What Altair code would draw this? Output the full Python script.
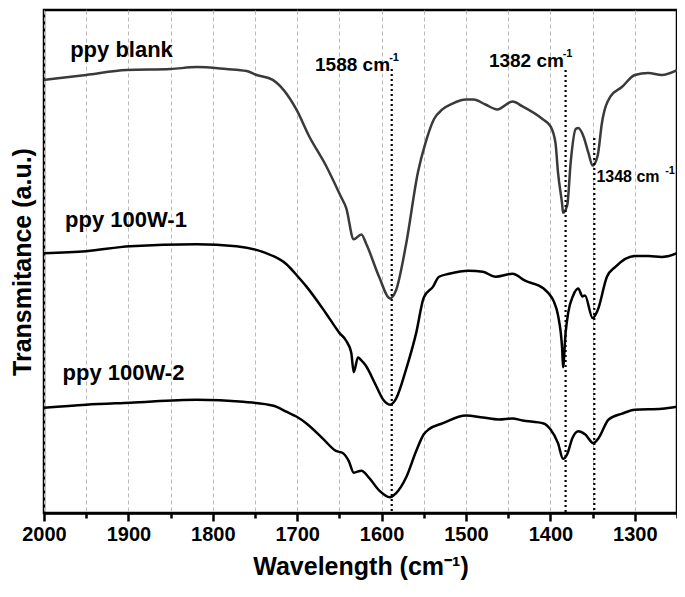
import altair as alt
import pandas as pd

# ---- data (wavenumber in cm-1, transmittance in arbitrary stacked units) ----
wn_blank = [2000, 1950, 1902, 1850, 1819, 1784, 1760, 1748, 1729, 1701, 1686, 1666, 1648,
            1642, 1633, 1624, 1618, 1603, 1590, 1583, 1571, 1557, 1548, 1538, 1528, 1516,
            1500, 1491, 1477, 1463, 1445, 1433, 1409, 1400, 1394, 1391, 1386, 1385, 1380,
            1376, 1370, 1367, 1361, 1355, 1350, 1344, 1339, 1329, 1315, 1300, 1284, 1268, 1250]
t_blank = [440, 445, 450, 451, 453, 451, 449, 445, 440, 410, 383, 353, 321,
           310, 278, 283, 273, 240, 218, 226, 273, 346, 376, 400, 410, 416,
           420, 420, 415, 410, 418, 413, 400, 393, 376, 346, 313, 305, 313,
           356, 390, 391, 383, 366, 353, 363, 396, 423, 433, 445, 447, 445, 450]

wn_w1 = [2000, 1950, 1898, 1819, 1772, 1740, 1713, 1699, 1689, 1666, 1650, 1642, 1636,
         1633, 1628, 1624, 1619, 1607, 1598, 1590, 1583, 1571, 1559, 1550, 1539, 1532,
         1520, 1497, 1480, 1465, 1445, 1430, 1408, 1402, 1396, 1391, 1386, 1385, 1382,
         1379, 1373, 1367, 1362, 1359, 1350, 1344, 1333, 1323, 1300, 1284, 1268, 1250]
t_w1 = [264, 266, 271, 273, 271, 265, 253, 240, 230, 203, 183, 175, 163,
        143, 158, 155, 150, 130, 115, 110, 116, 146, 183, 219, 230, 240,
        243, 246, 245, 240, 243, 236, 228, 223, 215, 201, 166, 148, 183,
        203, 221, 228, 220, 221, 198, 206, 240, 250, 261, 261, 260, 264]

wn_w2 = [2000, 1950, 1898, 1819, 1764, 1728, 1713, 1701, 1689, 1669, 1654, 1646, 1639,
         1633, 1624, 1615, 1603, 1590, 1583, 1571, 1559, 1550, 1544, 1528, 1500, 1480,
         1461, 1445, 1433, 1408, 1400, 1391, 1385, 1380, 1374, 1367, 1359, 1349, 1343,
         1331, 1315, 1300, 1268, 1250]
t_w2 = [107, 110, 112, 115, 113, 109, 103, 98, 91, 75, 63, 61, 53,
        41, 43, 36, 23, 16, 20, 36, 63, 80, 85, 91, 99, 97,
        95, 96, 94, 91, 85, 71, 55, 60, 76, 83, 80, 71, 76,
        95, 101, 105, 106, 108]

series_names = ["ppy blank", "ppy 100W-1", "ppy 100W-2"]
series_colors = ["#3a3a3a", "#000000", "#000000"]

# series labels
label_wn = [1969, 1975, 1978]
label_t = [463, 291, 135]

# marked peaks
peak_wn = [1588, 1382, 1348]
peak_top = [451, 450, 381]

peak_text = ["1588 cm", "1382 cm", "1348 cm"]
peak_text_wn = [1590, 1384, 1345.5]
peak_text_t = [449, 453, 336]
peak_text_align = ["right", "right", "left"]

sup_text = ["-1", "-1", "-1"]
sup_wn = [1591, 1385.5, 1264]
sup_t = [459, 463, 344]

x_ticks = list(range(2000, 1249, -50))

# ---- build tables ----
rows = []
for name, xs, ys in zip(series_names, [wn_blank, wn_w1, wn_w2], [t_blank, t_w1, t_w2]):
    for x, y in zip(xs, ys):
        rows.append({"series": name, "wn": x, "t": y})
df = pd.DataFrame(rows)

labels_df = pd.DataFrame({"series": series_names, "wn": label_wn, "t": label_t})
peaks_df = pd.DataFrame({"wn": peak_wn, "top": peak_top, "bottom": [0, 0, 0]})
ptext_df = pd.DataFrame({"txt": peak_text, "wn": peak_text_wn, "t": peak_text_t,
                         "align": peak_text_align})
sup_df = pd.DataFrame({"txt": sup_text, "wn": sup_wn, "t": sup_t})

FONT = "Liberation Sans"

x_scale = alt.Scale(domain=[2000, 1250], nice=False, zero=False)
y_scale = alt.Scale(domain=[0, 511], nice=False, zero=False)

x_axis = alt.Axis(
    values=x_ticks,
    format="d",
    labelExpr="datum.value % 100 == 0 ? datum.label : ''",
    grid=True, gridDash=[4, 3], gridColor="#b8b8b8", gridWidth=1,
    ticks=True,
    tickSize={"condition": {"test": "datum.value % 100 == 0", "value": 8}, "value": 5},
    tickWidth=2.5, tickColor="black",
    domainColor="black", domainWidth=2.5,
    labelFont=FONT, labelFontSize=20, labelFontWeight="bold", labelColor="black",
    labelPadding=3, labelFlush=False, labelOverlap=False,
    title="Wavelength (cm⁻¹)", titleFont=FONT, titleFontSize=25,
    titleFontWeight="bold", titleColor="black", titlePadding=10,
)
y_axis = alt.Axis(
    labels=False, ticks=False, grid=False, domain=False,
    title="Transmitance (a.u.)", titleFont=FONT, titleFontSize=25,
    titleFontWeight="bold", titleColor="black", titlePadding=9,
)

lines = alt.Chart(df).mark_line(strokeWidth=2.5, interpolate="monotone").encode(
    x=alt.X("wn:Q", scale=x_scale, axis=x_axis),
    y=alt.Y("t:Q", scale=y_scale, axis=y_axis),
    color=alt.Color("series:N", scale=alt.Scale(domain=series_names, range=series_colors), legend=None),
    detail="series:N",
)

rules = alt.Chart(peaks_df).mark_rule(color="black", strokeWidth=2.2, strokeDash=[2, 3]).encode(
    x=alt.X("wn:Q", scale=x_scale),
    y=alt.Y("top:Q", scale=y_scale),
    y2="bottom:Q",
)

series_text = alt.Chart(labels_df).mark_text(
    align="left", baseline="alphabetic", font=FONT, fontSize=22, fontWeight="bold", color="black"
).encode(
    x=alt.X("wn:Q", scale=x_scale),
    y=alt.Y("t:Q", scale=y_scale),
    text="series:N",
)

ptext_right = alt.Chart(ptext_df[ptext_df["align"] == "right"]).mark_text(
    align="right", baseline="alphabetic", font=FONT, fontSize=19, fontWeight="bold", color="black"
).encode(
    x=alt.X("wn:Q", scale=x_scale),
    y=alt.Y("t:Q", scale=y_scale),
    text="txt:N",
)
ptext_left = alt.Chart(ptext_df[ptext_df["align"] == "left"]).mark_text(
    align="left", baseline="alphabetic", font=FONT, fontSize=16, fontWeight="bold", color="black"
).encode(
    x=alt.X("wn:Q", scale=x_scale),
    y=alt.Y("t:Q", scale=y_scale),
    text="txt:N",
)
sup = alt.Chart(sup_df).mark_text(
    align="left", baseline="alphabetic", font=FONT, fontSize=11, fontWeight="bold", color="black"
).encode(
    x=alt.X("wn:Q", scale=x_scale),
    y=alt.Y("t:Q", scale=y_scale),
    text="txt:N",
)

chart = alt.layer(lines, rules, series_text, ptext_right, ptext_left, sup).properties(
    width=633, height=503,
    autosize=alt.AutoSizeParams(type="none"),
    padding={"left": 36, "top": 2, "right": 0, "bottom": 72},
    background="white",
).configure_view(stroke="black", strokeWidth=2.5)

chart.save("out.html", embed_options={"renderer": "svg", "actions": False})
